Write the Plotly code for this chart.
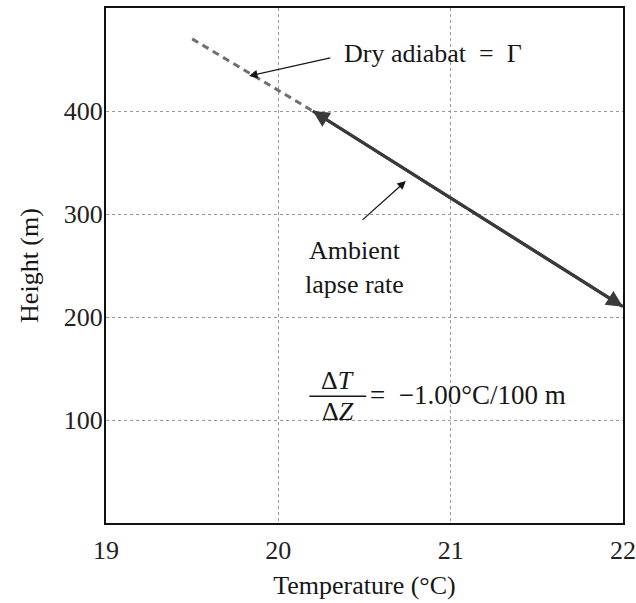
import plotly.graph_objects as go

# Data
dry_T = [19.5, 20.2]
dry_Z = [470, 400]
amb_T = [20.2, 22.0]
amb_Z = [400, 210]
x_ticks = [19, 20, 21, 22]
y_ticks = [100, 200, 300, 400]

SERIF = "Liberation Serif"
TXT = "#161616"
fig = go.Figure()

fig.add_trace(go.Scatter(x=dry_T, y=dry_Z, mode="lines",
                         line=dict(color="#707070", width=3, dash="7px,5px"),
                         hoverinfo="skip", showlegend=False))
fig.add_trace(go.Scatter(x=amb_T, y=amb_Z, mode="lines",
                         line=dict(color="#3a3a3a", width=3.2),
                         hoverinfo="skip", showlegend=False))

mid_T = (amb_T[0] + amb_T[1]) / 2
mid_Z = (amb_Z[0] + amb_Z[1]) / 2
ann = []
for i in (0, 1):
    ann.append(dict(x=amb_T[i], y=amb_Z[i], ax=mid_T, ay=mid_Z,
                    xref="x", yref="y", axref="x", ayref="y",
                    text="", showarrow=True, arrowhead=2, arrowsize=1.1,
                    arrowwidth=3, arrowcolor="#3a3a3a"))
# Dry adiabat label
ann.append(dict(x=19.83, y=434, ax=20.31, ay=452, xref="x", yref="y",
                axref="x", ayref="y", text="", showarrow=True, arrowhead=2,
                arrowsize=1.3, arrowwidth=1.3, arrowcolor=TXT))
ann.append(dict(x=20.37, y=456, xref="x", yref="y", xanchor="left",
                yanchor="middle", showarrow=False,
                text="Dry adiabat  =  Γ", font=dict(family=SERIF, size=26, color=TXT)))
# Ambient lapse rate label
ann.append(dict(x=20.74, y=332, ax=20.48, ay=293, xref="x", yref="y",
                axref="x", ayref="y", text="", showarrow=True, arrowhead=2,
                arrowsize=1.3, arrowwidth=1.3, arrowcolor=TXT))
ann.append(dict(x=20.44, y=248, xref="x", yref="y", xanchor="center",
                yanchor="middle", showarrow=False,
                text="Ambient<br>lapse rate",
                font=dict(family=SERIF, size=26, color=TXT)))
# Formula
ann.append(dict(x=20.345, y=138, xref="x", yref="y", showarrow=False,
                text="Δ<i>T</i>", font=dict(family=SERIF, size=26, color=TXT)))
ann.append(dict(x=20.345, y=108, xref="x", yref="y", showarrow=False,
                text="Δ<i>Z</i>", font=dict(family=SERIF, size=26, color=TXT)))
ann.append(dict(x=20.52, y=124, xref="x", yref="y", xanchor="left", showarrow=False,
                text="=  −1.00°C/100 m", font=dict(family=SERIF, size=27, color=TXT)))

fig.add_shape(type="line", x0=20.18, x1=20.51, y0=123, y1=123,
              xref="x", yref="y", line=dict(color=TXT, width=1.6))

fig.update_layout(
    width=636, height=603,
    margin=dict(l=106, r=13, t=8, b=80),
    paper_bgcolor="white", plot_bgcolor="white",
    annotations=ann,
    font=dict(family=SERIF, size=26, color="#222"),
)
fig.update_xaxes(range=[19, 22], tickvals=x_ticks, ticktext=[str(v) for v in x_ticks],
                 showgrid=True, gridcolor="#999", griddash="dot", gridwidth=1,
                 showline=True, mirror=True, linecolor="#111", linewidth=2,
                 zeroline=False, ticks="", ticklabelstandoff=3, automargin=False,
                 ticklabeloverflow="allow",
                 title=dict(text="Temperature (°C)", font=dict(family=SERIF, size=26, color=TXT), standoff=12),
                 tickfont=dict(family=SERIF, size=26, color="#222"))
fig.update_yaxes(range=[0, 500], tickvals=y_ticks, ticktext=[str(v) for v in y_ticks],
                 showgrid=True, gridcolor="#999", griddash="dot", gridwidth=1,
                 showline=True, mirror=True, linecolor="#111", linewidth=2,
                 zeroline=False, ticks="", ticklabelstandoff=-4, automargin=False,
                 ticklabeloverflow="allow",
                 title=dict(text="Height (m)", font=dict(family=SERIF, size=26, color=TXT), standoff=18),
                 tickfont=dict(family=SERIF, size=26, color="#222"))

fig.write_html("out.html", config={"displayModeBar": False},
               post_script="document.body.style.margin='0';document.body.style.overflow='hidden';")
